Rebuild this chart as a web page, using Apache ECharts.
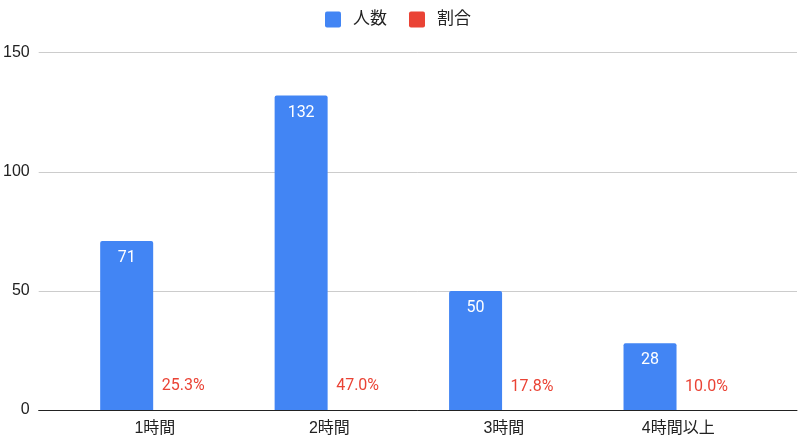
<!DOCTYPE html>
<html>
<head>
<meta charset="utf-8">
<script src="https://cdn.jsdelivr.net/npm/echarts@6/dist/echarts.min.js"></script>
<style>
  html, body { margin: 0; padding: 0; background: #fff; }
  #main { width: 800px; height: 440px; }
</style>
</head>
<body>
<div id="main"></div>
<script>
// データ
var categories = ['1時間', '2時間', '3時間', '4時間以上'];
var counts = [71, 132, 50, 28];
var ratios = [0.253, 0.470, 0.178, 0.100];
var yTicks = [0, 50, 100, 150];

var BLUE = '#4285F4';
var RED = '#EA4335';
var FONT = 'Roboto, "Noto Sans CJK JP", sans-serif';
var AXIS_FONT = '"Liberation Sans", "Noto Sans CJK JP", sans-serif';
var ICON = 'path://M2,0 H14 Q16,0 16,2 V14 Q16,16 14,16 H2 Q0,16 0,14 V2 Q0,0 2,0 Z';

var myChart = echarts.init(document.getElementById('main'));

myChart.setOption({
  textStyle: { fontFamily: FONT },
  legend: {
    left: 325,
    top: 10,
    padding: [1, 0, 0, 0],
    itemWidth: 16,
    itemHeight: 16,
    itemGap: 22,
    icon: ICON,
    textStyle: { fontSize: 17, color: '#222', padding: [0, 0, 0, 7], fontFamily: AXIS_FONT },
    data: [
      { name: '人数', itemStyle: { color: BLUE } },
      { name: '割合', itemStyle: { color: RED } }
    ]
  },
  // grid 0: 目盛りと横線（全幅）, grid 1: 棒
  grid: [
    { left: 37, right: 3, top: 52.7, bottom: 30 },
    { left: 67.7, right: 34.5, top: 52.7, bottom: 30 }
  ],
  xAxis: [
    {
      gridIndex: 0, type: 'value', min: 0, max: 1,
      axisLine: { show: true, onZero: false, lineStyle: { color: '#222', width: 1 } },
      axisTick: { show: false }, axisLabel: { show: false }, splitLine: { show: false }
    },
    {
      gridIndex: 1, type: 'category', data: categories,
      axisLine: { show: false }, axisTick: { show: false },
      axisLabel: { fontSize: 16, color: '#222', margin: 11, fontFamily: AXIS_FONT }
    }
  ],
  yAxis: [
    {
      gridIndex: 0, type: 'value', min: yTicks[0], max: yTicks[yTicks.length - 1], interval: 50,
      axisLine: { show: false }, axisTick: { show: false },
      axisLabel: { fontSize: 16, color: '#222', margin: 9, fontFamily: AXIS_FONT },
      splitLine: { lineStyle: { color: '#cccccc', width: 1 } }
    },
    {
      gridIndex: 1, type: 'value', min: yTicks[0], max: yTicks[yTicks.length - 1], interval: 50,
      show: false, splitLine: { show: false }
    }
  ],
  series: [
    {
      name: '人数', type: 'bar', xAxisIndex: 1, yAxisIndex: 1,
      data: counts, barWidth: 53, barGap: '6.6%',
      itemStyle: { color: BLUE, borderRadius: [2, 2, 0, 0] },
      label: {
        show: true, position: 'insideTop', distance: 9,
        color: '#fff', fontSize: 16, fontFamily: FONT
      }
    },
    {
      name: '割合', type: 'bar', xAxisIndex: 1, yAxisIndex: 1,
      data: ratios, barWidth: 53,
      itemStyle: { color: 'rgba(0,0,0,0)' },
      label: {
        show: true, position: 'top', distance: 15,
        color: RED, fontSize: 16, fontFamily: FONT,
        formatter: function (p) { return (p.value * 100).toFixed(1) + '%'; }
      }
    }
  ]
});
</script>
</body>
</html>
